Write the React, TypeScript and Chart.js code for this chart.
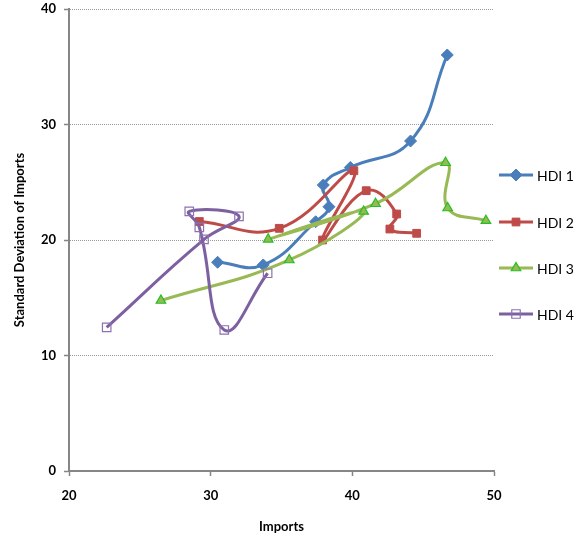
import React, { useEffect, useRef } from 'react';
import { Chart, registerables } from 'chart.js';
import { drawPoint } from 'chart.js/helpers';

Chart.register(...registerables);

// values
const seriesNames = ['HDI 1', 'HDI 2', 'HDI 3', 'HDI 4'];

const hdi1Imports = [30.49, 33.71, 37.41, 38.35, 37.95, 39.86, 44.11, 46.7];
const hdi1Sd = [18.07, 17.84, 21.58, 22.88, 24.76, 26.28, 28.57, 36.02];

const hdi2Imports = [29.2, 34.84, 40.11, 37.9, 40.98, 43.13, 42.65, 44.54];
const hdi2Sd = [21.6, 21.01, 26.0, 20.0, 24.27, 22.25, 20.95, 20.58];

const hdi3Imports = [26.49, 35.55, 40.8, 34.06, 41.64, 46.58, 46.73, 49.43];
const hdi3Sd = [14.76, 18.27, 22.47, 20.06, 23.14, 26.69, 22.77, 21.67];

const hdi4Imports = [22.66, 29.53, 32.0, 28.49, 29.2, 30.96, 34.02];
const hdi4Sd = [12.44, 20.06, 22.05, 22.48, 21.1, 12.21, 17.12];

const xTicks = [20, 30, 40, 50];
const yTicks = [0, 10, 20, 30, 40];

const FONT = 'Lato, "Open Sans", "DejaVu Sans", sans-serif';

const toPoints = (xs: number[], ys: number[]) => xs.map((x, i) => ({ x, y: ys[i] }));

const legendPlugin = {
    id: 'sideLegend',
    afterDraw(chart: any) {
        const ctx = chart.ctx;
        const rowsY = [175, 222, 268, 314];
        chart.data.datasets.forEach((ds: any, i: number) => {
            const y = rowsY[i];
            ctx.save();
            ctx.strokeStyle = ds.borderColor;
            ctx.lineWidth = 3;
            ctx.beginPath();
            ctx.moveTo(499, y);
            ctx.lineTo(533, y);
            ctx.stroke();
            ctx.fillStyle = ds.pointBackgroundColor;
            ctx.strokeStyle = ds.pointBorderColor;
            ctx.lineWidth = ds.pointBorderWidth;
            drawPoint(ctx, { pointStyle: ds.pointStyle, radius: ds.pointRadius, rotation: 0, borderWidth: ds.pointBorderWidth }, 516, y);
            ctx.fillStyle = '#000';
            ctx.font = '14px ' + FONT;
            ctx.textBaseline = 'middle';
            ctx.textAlign = 'left';
            ctx.fillText(seriesNames[i], 537, y + 1);
            ctx.restore();
        });
    },
};

const App: React.FC = () => {
    const canvasRef = useRef<HTMLCanvasElement>(null);

    useEffect(() => {
        if (!canvasRef.current) return;
        const ctx = canvasRef.current.getContext('2d');
        if (!ctx) return;

        const line = (color: string) => ({
            showLine: true,
            borderColor: color,
            borderWidth: 3,
            tension: 0.45,
            fill: false,
        });

        const chart = new Chart(ctx, {
            type: 'scatter',
            data: {
                datasets: [
                    {
                        label: seriesNames[0],
                        data: toPoints(hdi1Imports, hdi1Sd),
                        ...line('#4A7EBB'),
                        pointStyle: 'rectRot',
                        pointRadius: 6,
                        pointBackgroundColor: '#4A7EBB',
                        pointBorderColor: '#4A7EBB',
                        pointBorderWidth: 1,
                        order: 3,
                    },
                    {
                        label: seriesNames[1],
                        data: toPoints(hdi2Imports, hdi2Sd),
                        ...line('#BE4B48'),
                        pointStyle: 'rect',
                        pointRadius: 5.5,
                        pointBackgroundColor: '#BE4B48',
                        pointBorderColor: '#BE4B48',
                        pointBorderWidth: 1,
                        order: 2,
                    },
                    {
                        label: seriesNames[2],
                        data: toPoints(hdi3Imports, hdi3Sd),
                        ...line('#98B954'),
                        pointStyle: 'triangle',
                        pointRadius: 5.5,
                        pointBackgroundColor: '#98B954',
                        pointBorderColor: '#22C022',
                        pointBorderWidth: 1.2,
                        order: 1,
                    },
                    {
                        label: seriesNames[3],
                        data: toPoints(hdi4Imports, hdi4Sd),
                        ...line('#7D60A0'),
                        pointStyle: 'rect',
                        pointRadius: 6,
                        pointBackgroundColor: 'rgba(255,255,255,0)',
                        pointBorderColor: '#8C72B0',
                        pointBorderWidth: 1.2,
                        order: 0,
                    },
                ],
            },
            options: {
                responsive: true,
                maintainAspectRatio: false,
                animation: false,
                layout: { padding: { left: 0, right: 89, top: 9, bottom: 0 } },
                plugins: {
                    legend: { display: false },
                    tooltip: { enabled: false },
                },
                scales: {
                    x: {
                        type: 'linear',
                        min: xTicks[0],
                        max: xTicks[xTicks.length - 1],
                        afterBuildTicks: (axis: any) => {
                            axis.ticks = xTicks.map((v) => ({ value: v }));
                        },
                        afterFit: (axis: any) => {
                            axis.height = 71;
                            axis.paddingLeft = 0;
                            axis.paddingRight = 0;
                        },
                        grid: {
                            drawOnChartArea: false,
                            drawTicks: true,
                            tickLength: 5,
                            tickColor: '#868686',
                            tickWidth: 1.5,
                        },
                        border: { display: true, color: '#868686', width: 2 },
                        ticks: {
                            color: '#000',
                            padding: 12,
                            font: { family: FONT, size: 13, weight: 'bold' },
                        },
                        title: {
                            display: true,
                            text: 'Imports',
                            color: '#000',
                            padding: { top: 0, bottom: 7 },
                            font: { family: FONT, size: 13, weight: 'bold' },
                        },
                    },
                    y: {
                        type: 'linear',
                        min: yTicks[0],
                        max: yTicks[yTicks.length - 1],
                        afterBuildTicks: (axis: any) => {
                            axis.ticks = yTicks.map((v) => ({ value: v }));
                        },
                        afterFit: (axis: any) => {
                            axis.width = 69;
                            axis.paddingTop = 0;
                            axis.paddingBottom = 0;
                        },
                        grid: {
                            drawOnChartArea: true,
                            drawTicks: true,
                            tickLength: 5,
                            color: '#9a9a9a',
                            lineWidth: 1,
                            tickColor: '#868686',
                            tickWidth: 1.5,
                            tickBorderDash: [],
                        },
                        border: { display: true, color: '#868686', width: 2, dash: [1, 1] },
                        ticks: {
                            color: '#000',
                            padding: 8,
                            font: { family: FONT, size: 13, weight: 'bold' },
                        },
                        title: {
                            display: true,
                            text: 'Standard Deviation of Imports',
                            color: '#000',
                            padding: { top: 12, bottom: 0 },
                            font: { family: FONT, size: 13, weight: 'bold' },
                        },
                    },
                },
            },
            plugins: [legendPlugin],
        });

        return () => {
            chart.destroy();
        };
    }, []);

    return (
        <div style={{ position: 'fixed', left: 0, top: 0, width: 583, height: 542, background: '#fff' }}>
            <canvas ref={canvasRef} />
        </div>
    );
};

export default App;
